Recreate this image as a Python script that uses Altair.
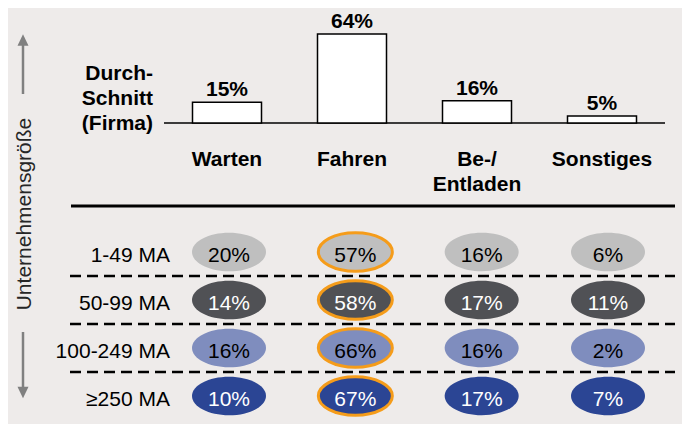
import altair as alt
import pandas as pd

# ---- data -------------------------------------------------------------
categories = ["Warten", "Fahren", "Be-/\nEntladen", "Sonstiges"]
average = [15, 64, 16, 5]
size_classes = ["1-49 MA", "50-99 MA", "100-249 MA", "≥250 MA"]
warten = [20, 14, 16, 10]
fahren = [57, 58, 66, 67]
beentladen = [16, 17, 16, 17]
sonstiges = [6, 11, 2, 7]
row_fill = ["#BFBFBF", "#505155", "#7F8DBE", "#2B4594"]
row_text = ["#000000", "#FFFFFF", "#000000", "#FFFFFF"]
highlight = "Fahren"
avg_label = ["Durch-", "Schnitt", "(Firma)"]
axis_label = "Unternehmensgröße"

FONT = "Liberation Sans"
FS = 21
BG = "#EEEBEA"
GREY = "#808080"
ORANGE = "#F59C1A"

bar_df = pd.DataFrame({"cat": categories, "value": average})
bar_df["label"] = bar_df["value"].astype(str) + "%"

records = []
for i, row in enumerate(size_classes):
    for cat, series in zip(categories, [warten, fahren, beentladen, sonstiges]):
        records.append({"row": row, "cat": cat, "value": series[i],
                        "label": f"{series[i]}%"})
tab_df = pd.DataFrame(records)
rows_df = pd.DataFrame({"row": size_classes})
sep_df = pd.DataFrame({"row": size_classes[:-1]})
one = pd.DataFrame({"k": [0]})

# ---- scales -----------------------------------------------------------
x_bar = alt.X("cat:N", scale=alt.Scale(type="point", domain=categories,
                                       range=[219, 594], padding=0), axis=None)
y_bar = alt.Y("value:Q", scale=alt.Scale(domain=[0, 64], range=[115, 26],
                                         nice=False, zero=True), axis=None)
x_tab = alt.X("cat:N", scale=alt.Scale(type="point", domain=categories,
                                       range=[221, 600], padding=0), axis=None)
y_tab = alt.Y("row:N", scale=alt.Scale(type="point", domain=size_classes,
                                       range=[244, 388], padding=0), axis=None)

ELLIPSE = ("M1,0C1,0.287 0.552,0.52 0,0.52C-0.552,0.52 -1,0.287 -1,0"
           "C-1,-0.287 -0.552,-0.52 0,-0.52C0.552,-0.52 1,-0.287 1,0Z")
TRI_UP = "M0,-1L-0.96,1L0.96,1Z"
TRI_DOWN = "M0,1L-0.96,-1L0.96,-1Z"

# ---- layers -----------------------------------------------------------
baseline = alt.Chart(one).mark_rule(color="black", strokeWidth=1.5).encode(
    x=alt.value(156), x2=alt.value(657), y=alt.value(115))

bars = alt.Chart(bar_df).mark_bar(size=69, fill="white", stroke="black",
                                  strokeWidth=1.5).encode(x=x_bar, y=y_bar)

bar_labels = alt.Chart(bar_df).mark_text(
    font=FONT, fontSize=FS, fontWeight="bold", baseline="alphabetic", dy=-6,
    color="black").encode(x=x_bar, y=y_bar, text="label:N")

cat_labels = alt.Chart(bar_df).mark_text(
    font=FONT, fontSize=FS, fontWeight="bold", baseline="alphabetic",
    lineBreak="\n", lineHeight=25, color="black").encode(
    x=x_bar, y=alt.value(158), text="cat:N")

avg_text = alt.Chart(one).mark_text(
    font=FONT, fontSize=FS, fontWeight="bold", baseline="alphabetic",
    align="right", lineHeight=25, color="black").encode(
    x=alt.value(145), y=alt.value(72), text=alt.value(avg_label))

thick = alt.Chart(one).mark_rule(color="black", strokeWidth=3).encode(
    x=alt.value(63), x2=alt.value(667), y=alt.value(198))

dashes = alt.Chart(sep_df).mark_rule(
    color="black", strokeWidth=2.5, strokeDash=[11, 6], yOffset=24).encode(
    x=alt.value(62), x2=alt.value(667), y=y_tab)

ellipses = alt.Chart(tab_df).mark_point(
    shape=ELLIPSE, filled=True, opacity=1, size=5476, strokeWidth=3).encode(
    x=x_tab, y=y_tab,
    fill=alt.Fill("row:N", scale=alt.Scale(domain=size_classes, range=row_fill),
                  legend=None),
    stroke=alt.condition(f"datum.cat == '{highlight}'", alt.value(ORANGE),
                         alt.value("transparent")))

cell_text = alt.Chart(tab_df).mark_text(
    font=FONT, fontSize=FS, baseline="alphabetic", dy=10).encode(
    x=x_tab, y=y_tab, text="label:N",
    color=alt.Color("row:N", scale=alt.Scale(domain=size_classes, range=row_text),
                    legend=None))

row_labels = alt.Chart(rows_df).mark_text(
    font=FONT, fontSize=FS, baseline="alphabetic", dy=9.5, align="right",
    color="black").encode(x=alt.value(162), y=y_tab, text="row:N")

side_text = alt.Chart(one).mark_text(
    font=FONT, fontSize=FS, angle=270, align="center", baseline="alphabetic",
    color="#262626").encode(x=alt.value(23), y=alt.value(206),
                            text=alt.value(axis_label))

up_shaft = alt.Chart(one).mark_rule(color=GREY, strokeWidth=2.5).encode(
    x=alt.value(15), y=alt.value(37), y2=alt.value(86))
up_head = alt.Chart(one).mark_point(
    shape=TRI_UP, filled=True, opacity=1, size=132, color=GREY).encode(
    x=alt.value(15), y=alt.value(32))
down_shaft = alt.Chart(one).mark_rule(color=GREY, strokeWidth=2.5).encode(
    x=alt.value(15), y=alt.value(324), y2=alt.value(380))
down_head = alt.Chart(one).mark_point(
    shape=TRI_DOWN, filled=True, opacity=1, size=132, color=GREY).encode(
    x=alt.value(15), y=alt.value(384.5))

chart = alt.layer(
    baseline, bars, bar_labels, cat_labels, avg_text, thick, dashes,
    ellipses, cell_text, row_labels, side_text,
    up_shaft, up_head, down_shaft, down_head,
).resolve_scale(
    x="independent", y="independent", color="independent", fill="independent"
).properties(
    width=674, height=416,
    autosize=alt.AutoSizeParams(type="none"),
    padding=0,
    background=BG,
).configure_view(stroke=None)

chart.save("out.html", embed_options={"renderer": "svg", "actions": False})
